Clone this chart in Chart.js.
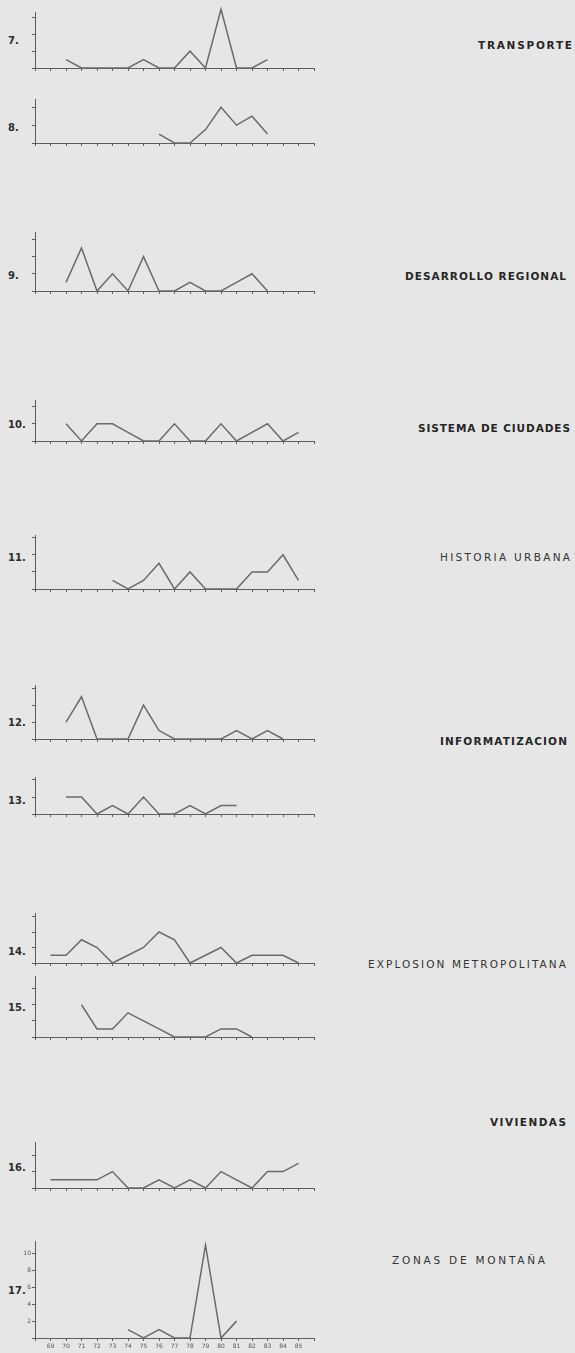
<!DOCTYPE html>
<html>
<head>
<meta charset="utf-8">
<script src="https://cdn.jsdelivr.net/npm/chart.js@4.4.1/dist/chart.umd.min.js"></script>
<style>
  body { margin: 0; background: #e6e6e6; }
  #page { position: relative; width: 575px; height: 1353px; overflow: hidden; background: #e6e6e6; font-family: 'DejaVu Sans', sans-serif; color: #2e2e2e; }
  #page canvas { position: absolute; left: 0; }
  .num { position: absolute; left: 8px; font-size: 10px; font-weight: bold; white-space: nowrap; }
  .title { position: absolute; font-size: 10.5px; white-space: nowrap; color: #333; }
  .title.bold { font-weight: bold; color: #262626; }
</style>
</head>
<body>
<div id="page"></div>
<script>
// ---- data (one value per year, null = no line drawn) ----
const years = [1969, 1970, 1971, 1972, 1973, 1974, 1975, 1976, 1977, 1978, 1979, 1980, 1981, 1982, 1983, 1984, 1985];

const transporte       = [null, 1, 0, 0, 0, 0, 1, 0, 0, 2, 0, 7, 0, 0, 1, null, null];
const serie8           = [null, null, null, null, null, null, null, 1, 0, 0, 1.5, 4, 2, 3, 1, null, null];
const desarrolloReg    = [null, 1, 5, 0, 2, 0, 4, 0, 0, 1, 0, 0, 1, 2, 0, null, null];
const sistemaCiudades  = [null, 2, 0, 2, 2, 1, 0, 0, 2, 0, 0, 2, 0, 1, 2, 0, 1];
const historiaUrbana   = [null, null, null, null, 1, 0, 1, 3, 0, 2, 0, 0, 0, 2, 2, 4, 1];
const informatizacion  = [null, 2, 5, 0, 0, 0, 4, 1, 0, 0, 0, 0, 1, 0, 1, 0, null];
const serie13          = [null, 2, 2, 0, 1, 0, 2, 0, 0, 1, 0, 1, 1, null, null, null, null];
const explosionMetro   = [1, 1, 3, 2, 0, 1, 2, 4, 3, 0, 1, 2, 0, 1, 1, 1, 0];
const serie15          = [null, null, 4, 1, 1, 3, 2, 1, 0, 0, 0, 1, 1, 0, null, null, null];
const viviendas        = [1, 1, 1, 1, 2, 0, 0, 1, 0, 1, 0, 2, 1, 0, 2, 2, 3];
const zonasMontana     = [null, null, null, null, null, 1, 0, 1, 0, 0, 11, 0, 2, null, null, null, null];

const yTickLabels = [2, 4, 6, 8, 10];

// ---- layout of the page (pixel positions of each small panel) ----
const panels = [
  { num: '7.',  numY: 40,   values: transporte,      top: 11.7,   base: 67.7,   ppu: 8.4, title: 'TRANSPORTE',              tx: 478, tw: 94,  ty: 45,   bold: true },
  { num: '8.',  numY: 127,  values: serie8,          top: 99,     base: 143.3,  ppu: 9.0 },
  { num: '9.',  numY: 275,  values: desarrolloReg,   top: 231.7,  base: 290.7,  ppu: 8.6, title: 'DESARROLLO REGIONAL',     tx: 405, tw: 161, ty: 276,  bold: true },
  { num: '10.', numY: 424,  values: sistemaCiudades, top: 400,    base: 440.5,  ppu: 8.5, title: 'SISTEMA DE CIUDADES',     tx: 418, tw: 152, ty: 428,  bold: true },
  { num: '11.', numY: 557,  values: historiaUrbana,  top: 535,    base: 589.3,  ppu: 8.6, title: 'HISTORIA URBANA',         tx: 440, tw: 130, ty: 557,  bold: false },
  { num: '12.', numY: 722,  values: informatizacion, top: 685,    base: 739.3,  ppu: 8.5, title: 'INFORMATIZACION',         tx: 440, tw: 127, ty: 741,  bold: true },
  { num: '13.', numY: 800,  values: serie13,         top: 777,    base: 814,    ppu: 8.5 },
  { num: '14.', numY: 951,  values: explosionMetro,  top: 913,    base: 962.7,  ppu: 7.7, title: 'EXPLOSION METROPOLITANA', tx: 368, tw: 198, ty: 964,  bold: false },
  { num: '15.', numY: 1007, values: serie15,         top: 976,    base: 1037.3, ppu: 8.1 },
  { num: '16.', numY: 1167, values: viviendas,       top: 1141.7, base: 1187.7, ppu: 8.2, title: 'VIVIENDAS',               tx: 490, tw: 76,  ty: 1122, bold: true },
  { num: '17.', numY: 1290, values: zonasMontana,    top: 1240.7, base: 1337.3, ppu: 8.4, title: 'ZONAS DE MONTAÑA',        tx: 392, tw: 153, ty: 1260, bold: false, labels: true },
];

const page = document.getElementById('page');
const CANVAS_W = 330, AXIS_LEFT = 35, AXIS_RIGHT = 314, PAD_TOP = 6, X_AXIS_H = 16;
const INK = '#5e5e5e';

function placeText(txt, cls, x, cy, w) {
  const el = document.createElement('div');
  el.className = cls;
  el.textContent = txt;
  page.appendChild(el);
  if (w) {
    const natural = el.getBoundingClientRect().width;
    el.style.letterSpacing = ((w - natural) / (txt.length - 1)) + 'px';
    el.style.left = x + 'px';
  }
  el.style.top = (cy - el.offsetHeight / 2) + 'px';
}

panels.forEach(p => {
  placeText(p.num, 'num', 8, p.numY);
  if (p.title) placeText(p.title, 'title' + (p.bold ? ' bold' : ''), p.tx, p.ty, p.tw);

  const h = p.base - p.top;
  const cv = document.createElement('canvas');
  cv.width = CANVAS_W;
  cv.height = Math.round(h + PAD_TOP + X_AXIS_H);
  cv.style.top = (p.top - PAD_TOP) + 'px';
  page.appendChild(cv);

  new Chart(cv, {
    type: 'line',
    data: {
      datasets: [{
        data: years.map((yr, i) => ({ x: yr, y: p.values[i] })),
        borderColor: '#6a6a6a', borderWidth: 1.5,
        pointRadius: 0, tension: 0, clip: false, spanGaps: false,
      }],
    },
    options: {
      responsive: false, animation: false, devicePixelRatio: 1,
      layout: { padding: { top: PAD_TOP, right: CANVAS_W - AXIS_RIGHT, left: 0, bottom: 0 } },
      plugins: { legend: { display: false }, tooltip: { enabled: false } },
      scales: {
        x: {
          type: 'linear', min: 1968, max: 1986,
          afterFit: s => { s.height = X_AXIS_H; },
          ticks: {
            display: !!p.labels, stepSize: 1, autoSkip: false, maxRotation: 0, padding: 2,
            color: '#555', font: { family: 'DejaVu Sans', size: 6 },
            callback: v => (v > 1968 && v < 1986) ? String(v).slice(2) : '',
          },
          grid: { drawOnChartArea: false, tickLength: 3, color: INK },
          border: { color: INK, width: 1 },
        },
        y: {
          min: 0, max: h / p.ppu,
          afterFit: s => { s.width = AXIS_LEFT; },
          ticks: {
            display: !!p.labels, stepSize: 2, includeBounds: false, padding: 1,
            color: '#555', font: { family: 'DejaVu Sans', size: 6 },
            callback: v => yTickLabels.includes(v) ? v : '',
          },
          grid: { drawOnChartArea: false, tickLength: 3, color: INK },
          border: { color: INK, width: 1 },
        },
      },
    },
  });
});
</script>
</body>
</html>
